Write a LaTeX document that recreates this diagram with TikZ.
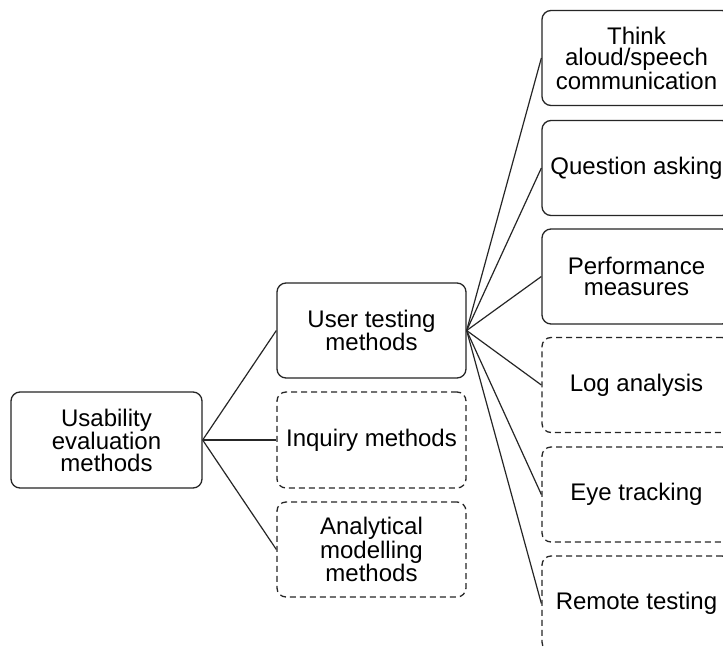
\documentclass[tikz,border=0pt]{standalone}
\usepackage{fontspec}
\setmainfont{Liberation Sans}
\begin{document}
\begin{tikzpicture}[x=1pt,y=-1pt,
  box/.style={draw=black!85, line width=1.3pt, rounded corners=9pt, minimum width=189pt, minimum height=95pt, inner sep=0pt, align=center, font=\fontsize{24}{21.7}\selectfont},
  dbox/.style={box, dash pattern=on 6pt off 4pt},
  link/.style={draw=black!85, line width=1.2pt}]
\useasboundingbox (0,0) rectangle (723,648);
\clip (0,0) rectangle (723,648);
\fill[white] (0,0) rectangle (723,648);
\node[box, minimum width=191pt, minimum height=96pt] (use) at (106.5,440) {Usability\\evaluation\\methods};
\node[box] (ut) at (371.5,330.5) {User testing\\methods};
\node[dbox, minimum height=96pt] (inq) at (371.5,440) {Inquiry methods};
\node[dbox] (ana) at (371.5,549.5) {Analytical\\modelling\\methods};
\node[box] (r1) at (636.5,58) {Think\\aloud/speech\\communication};
\node[box] (r2) at (636.5,168) {Question asking};
\node[box] (r3) at (636.5,276.5) {Performance\\measures};
\node[dbox] (r4) at (636.5,385) {Log analysis};
\node[dbox] (r5) at (636.5,494.5) {Eye tracking};
\node[dbox] (r6) at (636.5,603.5) {Remote testing};
\draw[link] (use.east) -- (ut.west);
\draw[link] (use.east) -- (inq.west);
\draw[link] (use.east) -- (ana.west);
\foreach \n in {r1,r2,r3,r4,r5,r6} \draw[link] (ut.east) -- (\n.west);
\end{tikzpicture}
\end{document}
